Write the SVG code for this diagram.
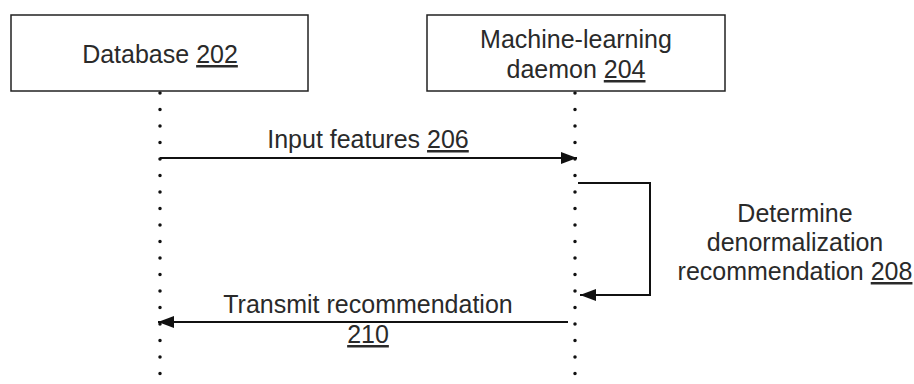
<svg xmlns="http://www.w3.org/2000/svg" width="914" height="384" viewBox="0 0 914 384">
<defs>
<style>
.box{fill:#fff;stroke:#222;stroke-width:1.5}
.t{font-family:"Liberation Sans",Arial,sans-serif;font-size:25px;fill:#2a2a2a;text-anchor:middle}
.u{text-decoration:underline}
.life{stroke:#111;stroke-width:3.5;stroke-linecap:round;stroke-dasharray:0 16.5;fill:none}
.msg{stroke:#111;stroke-width:2;fill:none}
</style>
<marker id="ahb" viewBox="0 0 16 12" refX="16" refY="6" markerWidth="16" markerHeight="12" markerUnits="userSpaceOnUse" orient="auto">
<path d="M0,0 L16,6 L0,12 Z" fill="#111"/>
</marker>
</defs>
<rect width="914" height="384" fill="#fff"/>
<g id="lifelines">
<line class="life" x1="160" y1="93" x2="160" y2="384"/>
<line class="life" x1="575" y1="93" x2="575" y2="384"/>
</g>
<g id="db202">
<rect class="box" x="11" y="15" width="297" height="76"/>
<text class="t" x="160" y="63">Database <tspan class="u">202</tspan></text>
</g>
<g id="ml204">
<rect class="box" x="427" y="15" width="298" height="76"/>
<text class="t" x="576" y="48">Machine-learning</text>
<text class="t" x="576" y="78">daemon <tspan class="u">204</tspan></text>
</g>
<g id="connectors">
<line class="msg" x1="160" y1="158" x2="577" y2="158" marker-end="url(#ahb)"/>
<polyline class="msg" points="578,183 650,183 650,295 580,295" marker-end="url(#ahb)"/>
<line class="msg" x1="568" y1="322" x2="158" y2="322" marker-end="url(#ahb)"/>
</g>
<g id="labels">
<text class="t" x="368" y="148">Input features <tspan class="u">206</tspan></text>
<text class="t" x="795" y="222">Determine</text>
<text class="t" x="795" y="251">denormalization</text>
<text class="t" x="795" y="280">recommendation <tspan class="u">208</tspan></text>
<text class="t" x="368" y="313">Transmit recommendation</text>
<text class="t" x="368" y="343"><tspan class="u">210</tspan></text>
</g>
</svg>
